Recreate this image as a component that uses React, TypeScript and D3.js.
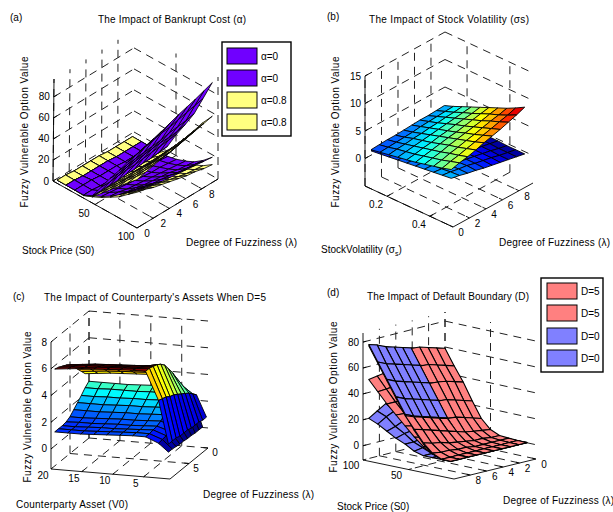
import React from "react";
import * as d3 from "d3";

type Mat = (number | null)[][];
type Pt = [number, number];

const FONT = "'Liberation Sans', Arial, sans-serif";

// Panel (a)
const stockA = [5, 15.5, 26, 36.5, 47, 57.5, 68, 78.5, 89, 100];
const fuzzA = [0, 1.03, 2.07, 3.1, 4.13, 5.17, 6.2, 7.23, 8.27, 9.3];
const lowerAlpha0: Mat = [
  [3, 3, 2, 2, 2, 2, 1, 1, 1, 1],
  [3, 3, 2, 2, 2, 2, 1, 1, 1, 1],
  [3, 3, 3, 2, 2, 2, 1, 1, 1, 1],
  [3, 3, 2, 2, 2, 1, 1, 1, 0, 0],
  [7, 6, 5, 5, 4, 3, 3, 2, 2, 1],
  [11, 10, 9, 8, 7, 6, 5, 5, 4, 3],
  [16, 15, 13, 12, 11, 10, 9, 8, 7, 6],
  [22, 20, 19, 17, 16, 15, 14, 12, 11, 10],
  [29, 27, 25, 23, 22, 21, 19, 18, 17, 16],
  [36, 34, 32, 30, 29, 28, 27, 26, 25, 24],
];
const lowerAlpha8: Mat = [
  [3.1, 3.1, 2.1, 2.1, 2.1, 2.1, 1.1, 1.1, 1.1, 1.1],
  [3.02, 3.02, 2.02, 2.02, 2.02, 2.02, 1.02, 1.02, 1.02, 1.02],
  [2.9, 2.9, 2.9, 1.9, 1.9, 1.9, 0.9, 0.9, 0.9, 0.9],
  [2.5, 2.4, 1.9, 1.5, 1.4, 0.9, 0.8, 0.5, 0, 0],
  [6, 5, 5, 4, 3, 3, 2, 2, 1, 1],
  [10, 9, 8, 7, 6, 5, 4, 4, 3, 2],
  [15, 13, 12, 11, 9, 8, 7, 6, 5, 4],
  [20, 19, 17, 15, 14, 12, 11, 9, 8, 7],
  [27, 25, 23, 21, 19, 17, 15, 13, 12, 11],
  [34, 32, 29, 27, 25, 23, 21, 20, 18, 17],
];
const upperAlpha0: Mat = [
  [3, 3, 2, 2, 2, 2, 1, 1, 1, 1],
  [3, 3, 2, 2, 2, 2, 1, 1, 1, 1],
  [3, 3, 3, 2, 2, 2, 1, 1, 1, 1],
  [3, 3, 2, 2, 2, 1, 1, 1, 0, 0],
  [7, 7, 7, 7, 8, 8, 9, 9, 10, 11],
  [20, 20, 21, 22, 22, 23, 24, 25, 26, 27],
  [33, 33, 34, 35, 36, 37, 38, 38, 39, 41],
  [45, 46, 47, 48, 49, 50, 52, 53, 54, 56],
  [58, 60, 62, 64, 66, 67, 69, 71, 73, 75],
  [70, 73, 75.5, 78, 81, 84, 86.5, 89, 92, 95],
];
const upperAlpha8: Mat = [
  [3.1, 3.1, 2.1, 2.1, 2.1, 2.1, 1.1, 1.1, 1.1, 1.1],
  [3.02, 3.02, 2.02, 2.02, 2.02, 2.02, 1.02, 1.02, 1.02, 1.02],
  [2.9, 2.9, 2.9, 1.9, 1.9, 1.9, 0.9, 0.9, 0.9, 0.9],
  [2.5, 2.4, 1.9, 1.5, 1.4, 0.9, 0.8, 0.5, 0, 0],
  [6, 6, 6, 6, 6, 6, 6, 6, 6, 7],
  [14, 14, 14, 14, 15, 15, 15, 16, 16, 17],
  [22, 22, 23, 23, 24, 24, 25, 26, 27, 28],
  [30, 31, 31, 32, 33, 34, 35, 36, 38, 40],
  [38, 39, 40, 41, 42, 43, 45, 47, 49, 52],
  [46, 48, 50, 52, 53, 55, 57, 59, 61, 63],
];

// Panel (b)
const sigmaB = [0.125, 0.167, 0.208, 0.25, 0.292, 0.333, 0.375, 0.417, 0.458, 0.5];
const fuzzB = [0, 0.99, 1.98, 2.97, 3.96, 4.94, 5.93, 6.92, 7.91, 8.9];
const upperB: Mat = [
  [2.1, 2.2, 2.3, 2.3, 2.4, 2.5, 2.6, 2.6, 2.7, 2.8],
  [2.4, 2.5, 2.6, 2.7, 2.8, 3.0, 3.1, 3.2, 3.3, 3.4],
  [2.7, 2.9, 3.0, 3.2, 3.3, 3.5, 3.6, 3.8, 3.9, 4.1],
  [3.0, 3.2, 3.4, 3.6, 3.8, 4.0, 4.2, 4.4, 4.6, 4.8],
  [3.3, 3.5, 3.8, 4.0, 4.3, 4.5, 4.8, 5.0, 5.2, 5.5],
  [3.6, 3.9, 4.2, 4.5, 4.8, 5.0, 5.3, 5.6, 5.9, 6.2],
  [4.0, 4.3, 4.6, 5.0, 5.3, 5.6, 5.9, 6.2, 6.6, 6.9],
  [4.4, 4.7, 5.1, 5.4, 5.8, 6.1, 6.5, 6.9, 7.2, 7.6],
  [4.8, 5.2, 5.5, 5.9, 6.3, 6.7, 7.1, 7.5, 7.9, 8.4],
  [5.3, 5.7, 6.0, 6.4, 6.9, 7.3, 7.7, 8.2, 8.7, 9.3],
];
const lowerB: Mat = [
  [1.9, 1.9, 1.8, 1.8, 1.7, 1.6, 1.5, 1.4, 1.3, 1.2],
  [2.1, 2.0, 1.9, 1.9, 1.8, 1.7, 1.6, 1.5, 1.3, 1.2],
  [2.3, 2.2, 2.1, 2.0, 1.9, 1.8, 1.6, 1.5, 1.3, 1.2],
  [2.5, 2.4, 2.3, 2.2, 2.0, 1.9, 1.7, 1.5, 1.3, 1.1],
  [2.7, 2.6, 2.4, 2.3, 2.1, 1.9, 1.7, 1.5, 1.3, 1.0],
  [2.9, 2.8, 2.6, 2.4, 2.2, 2.0, 1.8, 1.5, 1.2, 0.9],
  [3.1, 3.0, 2.8, 2.5, 2.3, 2.0, 1.8, 1.5, 1.2, 0.9],
  [3.3, 3.1, 2.9, 2.7, 2.4, 2.1, 1.8, 1.5, 1.1, 0.8],
  [3.5, 3.3, 3.0, 2.8, 2.4, 2.1, 1.8, 1.4, 1.1, 0.8],
  [3.7, 3.4, 3.0, 2.7, 2.3, 2.0, 1.7, 1.4, 1.1, 0.8],
];

// Panel (c)
const assetC = [1.0, 2.6, 4.7, 6.8, 8.9, 11, 13.1, 15.2, 17.3, 19.4];
const fuzzC = [0, 1, 2, 3, 4, 5, 6, 7, 8, 9, 10];
const upperC: Mat = [
  [0.8, 0.8, 0.9, 0.9, 0.9, 1.0, 1.0, 1.0, 1.1, 1.1, 1.1],
  [2.4, 2.7, 3.0, 3.2, 3.4, 3.6, 3.8, 3.9, 4.1, 4.2, 4.3],
  [2.6, 3.4, 4.1, 4.7, 5.2, 5.7, 6.0, 6.2, 6.3, 6.4, 6.4],
  [null, null, 4.2, 4.6, 5.0, 5.4, 5.8, 6.0, 6.15, 6.3, 6.4],
  [null, null, 4.15, 4.55, 4.95, 5.35, 5.75, 5.95, 6.1, 6.25, 6.35],
  [null, null, 4.1, 4.5, 4.9, 5.3, 5.7, 5.9, 6.05, 6.2, 6.3],
  [null, null, 4.05, 4.45, 4.85, 5.25, 5.65, 5.85, 6.0, 6.15, 6.25],
  [null, null, 4.0, 4.4, 4.8, 5.2, 5.6, 5.8, 5.95, 6.05, 6.2],
  [null, null, 3.9, 4.3, 4.7, 5.1, 5.5, 5.7, 5.85, 6.0, 6.1],
  [null, null, 3.8, 4.2, 4.6, 5.0, 5.4, 5.6, 5.75, 5.9, 6.0],
];
const lowerC: Mat = [
  [null, 0.3, 0.3, 0.3, 0.35, 0.35, 0.4, 0.4, 0.45, 0.5, 0.5],
  [null, 2.4, 2.2, 2.0, 1.8, 1.6, 1.4, 1.3, 1.2, 1.15, 1.1],
  [null, 3.1, 2.9, 2.6, 2.3, 2.0, 1.75, 1.6, 1.55, 1.5, 1.5],
  [null, 3.1, 2.85, 2.55, 2.25, 1.95, 1.7, 1.55, 1.5, 1.5, 1.5],
  [null, 3.1, 2.85, 2.5, 2.2, 1.9, 1.65, 1.5, 1.45, 1.45, 1.45],
  [null, 3.05, 2.8, 2.5, 2.2, 1.9, 1.65, 1.5, 1.4, 1.4, 1.4],
  [null, 3.0, 2.8, 2.45, 2.15, 1.85, 1.6, 1.45, 1.4, 1.35, 1.35],
  [null, 3.0, 2.8, 2.45, 2.1, 1.8, 1.55, 1.4, 1.35, 1.3, 1.3],
  [null, 3.0, 2.75, 2.4, 2.1, 1.8, 1.5, 1.4, 1.3, 1.3, 1.3],
  [null, 3.0, 2.75, 2.4, 2.1, 1.8, 1.5, 1.35, 1.3, 1.3, 1.3],
];

// Panel (d)
const stockD = [10, 20, 30, 40, 50, 60, 70, 80, 90, 100];
const fuzzD = [0, 1.03, 2.07, 3.1, 4.13, 5.17, 6.2, 7.23, 8.27, 9.3];
const upperD0: Mat = [
  [0.3, 0.3, 0.3, 0.3, 0.3, 0.3, 0.3, 0.3, 0.3, 0.3],
  [0, 0, 0, 0, 0, 0, 0, 0, 0, 0],
  [0, 0, 0, 0, 0, 1, 1, 2, 2, 3],
  [0, 0, 1, 1, 2, 3, 4, 6, 7, 9],
  [3, 4, 5, 6, 8, 10, 12, 14, 16, 18],
  [10, 12, 14, 16, 18, 20, 22, 24, 26, 29],
  [22, 24, 26, 28, 30, 32, 34, 36, 38, 41],
  [35, 37, 39, 40, 42, 44, 46, 48, 50, 53],
  [46, 48, 50, 52, 54, 56, 58, 60, 62, 65],
  [58, 60, 62, 64, 66, 68, 70, 72, 75, 77],
];
const upperD5: Mat = [
  [0.1, 0.1, 0.1, 0.1, 0.1, 0.1, 0.1, 0.1, 0.1, 0.1],
  [0.2, 0.2, 0.2, 0.2, 0.2, 0.2, 0.2, 0.2, 0.2, 0.2],
  [0.5, 0.5, 0.5, 0.5, 0.5, 1.5, 1.5, 2.5, 2.5, 3.5],
  [1, 1, 2, 2, 3, 4, 5, 7, 8, 10],
  [4, 5, 6, 7, 9, 11, 13, 15, 17, 19],
  [11, 13, 15, 17, 17.5, 19.5, 21.5, 23.5, 25.5, 28],
  [23, 25, 27, 29, 29.5, 31.5, 33.5, 35.5, 37.5, 40],
  [36, 38, 40, 41, 41.5, 43.5, 45.5, 47.5, 49.5, 52],
  [47, 49, 51, 53, 53.5, 55.5, 57.5, 59.5, 61.5, 64],
  [59, 61, 63, 65, 65.5, 67.5, 69.5, 71.5, 74, 76],
];
const lowerD5: Mat = [
  [0, 0, 0, 0, 0, 0, 0, 0, 0, 0],
  [0, 0, 0, 0, 0, 0, 0, 0, 0, 0],
  [0, 0, 0, 0, 0, 0.5, 1, 1, 2, 3],
  [0, 0, 0.5, 1, 1.5, 2, 3, 4, 5, 7],
  [2.5, 3.5, 4, 5, 6, 7, 8, 9.5, 11, 13],
  [9.5, 10.5, 11.5, 12.5, 14, 15, 16, 17, 18.5, 20],
  [21.5, 22, 22.5, 23, 24, 24.5, 25, 26, 26.5, 27],
  [34.5, 34.5, 34.5, 34.5, 34.5, 34, 34, 34, 34, 34],
  [45.5, 45, 44.5, 44, 44, 43.5, 43, 43, 42.5, 42],
  [57.5, 56.5, 55.5, 55, 54, 53, 52.5, 52, 51, 50],
];
const lowerD0: Mat = [
  [0, 0, 0, 0, 0, 0, 0, 0, 0, 0],
  [0, 0, 0, 0, 0, 0, 0, 0, 0, 0],
  [0, 0, 0, 0, 0, 0, 0, 0, 0, 0],
  [0, 0, 0, 0, 0, 0, 0, 0, 0, 0],
  [2, 2, 2, 3, 3, 3, 3, 3, 3, 2],
  [9, 9, 9, 9, 8, 8, 7, 7, 6, 6],
  [21, 20, 19, 18, 17, 15, 14, 12, 11, 9],
  [34, 32, 30, 27, 25, 23, 21, 18, 15, 13],
  [45, 42, 39, 36, 33, 30, 27, 24, 21, 17],
  [57, 53, 48, 44, 40, 36, 32, 28, 24, 20],
];

const legendA = ["α=0", "α=0", "α=0.8", "α=0.8"];
const legendD = ["D=5", "D=5", "D=0", "D=0"];
const PURPLE = "#7000ff";
const YELLOW = "#ffff80";
const RED = "#ff8080";
const BLUE = "#8080ff";

const jet = d3
  .scaleLinear<string>()
  .domain([0, 0.125, 0.375, 0.625, 0.875, 1])
  .range(["#000080", "#0000ff", "#00ffff", "#ffff00", "#ff0000", "#800000"])
  .clamp(true);

type Surface = { z: Mat; fill?: string; colorAt?: [number, number] };
type Lbl = { t: string; x: number; y: number; anchor?: string; len?: number };
type PanelCfg = {
  uDomain: [number, number];
  vDomain: [number, number];
  zDomain: [number, number];
  floor: [[Pt, Pt], [Pt, Pt]];
  top: [[Pt, Pt], [Pt, Pt]];
  uBack: number;
  vBack: number;
  uFront: number;
  vFront: number;
  uTicks: number[];
  vTicks: number[];
  zTicks: number[];
  uOff: Pt;
  vOff: Pt;
  uLabels: number[];
  us: number[];
  vs: number[];
  surfaces: Surface[];
  mesh: number;
  clim?: [number, number];
  tickFmt?: (v: number) => string;
};

function Panel({ c }: { c: PanelCfg }) {
  const U = d3.scaleLinear().domain(c.uDomain).range([0, 1]);
  const V = d3.scaleLinear().domain(c.vDomain).range([0, 1]);
  const Z = d3.scaleLinear().domain(c.zDomain).range([0, 1]);
  const bil = (g: [[Pt, Pt], [Pt, Pt]], a: number, b: number): Pt => {
    const f = (k: 0 | 1) =>
      (1 - a) * ((1 - b) * g[0][0][k] + b * g[0][1][k]) + a * ((1 - b) * g[1][0][k] + b * g[1][1][k]);
    return [f(0), f(1)];
  };
  const proj = (u: number, v: number, z: number): Pt => {
    const a = U(u);
    const b = V(v);
    const t = Z(z);
    const f = bil(c.floor, a, b);
    const p = bil(c.top, a, b);
    return [f[0] + t * (p[0] - f[0]), f[1] + t * (p[1] - f[1])];
  };
  const [zLo, zHi] = c.zDomain;
  const seg = (a: Pt, b: Pt) => d3.line()([a, b]) as string;
  const closed = d3.line().curve(d3.curveLinearClosed);

  const grid: string[] = [];
  c.uTicks.forEach((u) => {
    grid.push(seg(proj(u, c.vBack, zLo), proj(u, c.vFront, zLo)));
    grid.push(seg(proj(u, c.vBack, zLo), proj(u, c.vBack, zHi)));
  });
  c.vTicks.forEach((v) => {
    grid.push(seg(proj(c.uBack, v, zLo), proj(c.uFront, v, zLo)));
    grid.push(seg(proj(c.uBack, v, zLo), proj(c.uBack, v, zHi)));
  });
  c.zTicks.forEach((z) => {
    grid.push(seg(proj(c.uBack, c.vFront, z), proj(c.uBack, c.vBack, z)));
    grid.push(seg(proj(c.uBack, c.vBack, z), proj(c.uFront, c.vBack, z)));
  });

  const all = c.surfaces.flatMap((s) => s.z.flat()).filter((d) => d !== null) as number[];
  const ext = c.clim ?? (d3.extent(all) as [number, number]);
  const cnorm = d3.scaleLinear().domain(ext).range([0, 1]);

  const cells: { d: string; fill: string; fy: number; mz: number }[] = [];
  c.surfaces.forEach((s) => {
    const [di, dj] = s.colorAt ?? [0, 0];
    for (let i = 0; i < c.us.length - 1; i++) {
      for (let j = 0; j < c.vs.length - 1; j++) {
        const zs = [s.z[i][j], s.z[i + 1][j], s.z[i + 1][j + 1], s.z[i][j + 1]];
        if (zs.some((q) => q === null)) continue;
        const idx: [number, number][] = [[i, j], [i + 1, j], [i + 1, j + 1], [i, j + 1]];
        const pts = idx.map(([a, b], k) => proj(c.us[a], c.vs[b], zs[k] as number));
        const floorY = idx.map(([a, b]) => proj(c.us[a], c.vs[b], zLo)[1]);
        cells.push({
          d: closed(pts) as string,
          fill: s.fill ?? jet(cnorm(s.z[i + di][j + dj] as number)),
          fy: Math.round((d3.mean(floorY) as number) * 1000),
          mz: d3.mean(zs as number[]) as number,
        });
      }
    }
  });
  cells.sort((a, b) => d3.ascending(a.fy, b.fy) || d3.ascending(a.mz, b.mz));

  const axisO = proj(c.uBack, c.vFront, zLo);
  const axisZ = proj(c.uBack, c.vFront, zHi);
  const corner = proj(c.uFront, c.vFront, zLo);
  const end = proj(c.uFront, c.vBack, zLo);
  const fmt = c.tickFmt ?? ((v: number) => String(v));
  const uSpan = c.uBack - c.uFront;
  const vSpan = c.vBack - c.vFront;

  return (
    <g>
      <g fill="none" stroke="#222" strokeWidth={1} strokeDasharray="8 6">
        {grid.map((d, i) => (
          <path key={i} d={d} />
        ))}
      </g>
      <g stroke="#000" strokeWidth={0.9} fill="none">
        <path d={seg(axisO, axisZ)} />
        <path d={seg(axisO, corner)} />
        <path d={seg(corner, end)} />
        {c.uTicks.map((u) => (
          <path key={"u" + u} d={seg(proj(u, c.vFront, zLo), proj(u, c.vFront + vSpan * 0.04, zLo))} />
        ))}
        {c.vTicks.map((v) => (
          <path key={"v" + v} d={seg(proj(c.uFront, v, zLo), proj(c.uFront + uSpan * 0.04, v, zLo))} />
        ))}
        {c.zTicks.map((z) => (
          <path key={"z" + z} d={seg(proj(c.uBack, c.vFront, z), proj(c.uBack, c.vFront + vSpan * 0.04, z))} />
        ))}
      </g>
      <g stroke="#000" strokeWidth={c.mesh} strokeLinejoin="round">
        {cells.map((q, i) => (
          <path key={i} d={q.d} fill={q.fill} />
        ))}
      </g>
      <g fontSize={10} fontFamily={FONT} fill="#000">
        {c.zTicks.map((z) => {
          const p = proj(c.uBack, c.vFront, z);
          return (
            <text key={"tz" + z} x={p[0] - 4} y={p[1] + 3.5} textAnchor="end">
              {z}
            </text>
          );
        })}
        {c.uLabels.map((u) => {
          const p = proj(u, c.vFront, zLo);
          return (
            <text key={"tu" + u} x={p[0] + c.uOff[0]} y={p[1] + c.uOff[1]} textAnchor="middle">
              {fmt(u)}
            </text>
          );
        })}
        {c.vTicks.map((v) => {
          const p = proj(c.uFront, v, zLo);
          return (
            <text key={"tv" + v} x={p[0] + c.vOff[0]} y={p[1] + c.vOff[1]} textAnchor="middle">
              {v}
            </text>
          );
        })}
      </g>
    </g>
  );
}

function Legend({ x, y, w, h, sw, rows, labels, fills }: { x: number; y: number; w: number; h: number; sw: number; rows: number[]; labels: string[]; fills: string[] }) {
  return (
    <g fontSize={10} fontFamily={FONT}>
      <rect x={x} y={y} width={w} height={h} fill="#fff" stroke="#000" strokeWidth={1.4} />
      {labels.map((l, i) => (
        <g key={i}>
          <rect x={sw} y={rows[i]} width={30} height={16} fill={fills[i]} stroke="#000" strokeWidth={1} />
          <text x={sw + 34} y={rows[i] + 11.5}>
            {l}
          </text>
        </g>
      ))}
    </g>
  );
}

const panelA: PanelCfg = {
  uDomain: [0, 100], vDomain: [0, 10], zDomain: [0, 97],
  floor: [[[53, 181], [134, 132]], [[137, 228], [218, 179]]],
  top: [[[54, 79], [134, 30]], [[137, 126], [218, 77]]],
  uBack: 0, vBack: 10, uFront: 100, vFront: 0,
  uTicks: [50, 100], vTicks: [0, 2, 4, 6, 8], zTicks: [0, 20, 40, 60, 80],
  uOff: [-11, 12], vOff: [10, 9], uLabels: [50, 100],
  us: stockA, vs: fuzzA, mesh: 0.8,
  surfaces: [
    { z: lowerAlpha8, fill: YELLOW },
    { z: lowerAlpha0, fill: PURPLE },
    { z: upperAlpha8, fill: YELLOW },
    { z: upperAlpha0, fill: PURPLE },
  ],
};
const panelB: PanelCfg = {
  uDomain: [0.097, 0.508], vDomain: [0, 9.7], zDomain: [-5, 15],
  floor: [[[365, 186], [445, 142]], [[453, 227], [533, 183]]],
  top: [[[365, 76], [445, 32]], [[453, 117], [533, 73]]],
  uBack: 0.097, vBack: 9.7, uFront: 0.508, vFront: 0,
  uTicks: [0.2, 0.4], vTicks: [0, 2, 4, 6, 8], zTicks: [0, 5, 10, 15],
  uOff: [-11, 12], vOff: [8, 9], uLabels: [0.2, 0.4],
  us: sigmaB, vs: fuzzB, mesh: 0.9, clim: [0.5, 10.3],
  surfaces: [{ z: lowerB, colorAt: [1, 1] }, { z: upperB, colorAt: [1, 1] }],
  tickFmt: (v) => v.toFixed(1),
};
const panelC: PanelCfg = {
  uDomain: [0.75, 20], vDomain: [0, 10], zDomain: [-1.5, 8],
  floor: [[[208, 448], [170, 479]], [[89, 438], [51, 469]]],
  top: [[[208, 321], [170, 352]], [[89, 311], [51, 342]]],
  uBack: 20, vBack: 0, uFront: 0.75, vFront: 10,
  uTicks: [5, 10, 15, 20], vTicks: [0, 5], zTicks: [0, 2, 4, 6, 8],
  uOff: [-8, 10], vOff: [7, 8], uLabels: [5, 10, 15, 20],
  us: assetC, vs: fuzzC, mesh: 0.9, clim: [0.3, 6.1],
  surfaces: [{ z: lowerC, colorAt: [0, 1] }, { z: upperC }],
};
const panelD: PanelCfg = {
  uDomain: [0, 100], vDomain: [0, 10], zDomain: [-11, 87],
  floor: [[[536, 459], [454, 479]], [[445, 439], [363, 460]]],
  top: [[[536, 332], [454, 352]], [[445, 312], [363, 333]]],
  uBack: 100, vBack: 0, uFront: 0, vFront: 10,
  uTicks: [50, 100], vTicks: [0, 2, 4, 6, 8], zTicks: [0, 20, 40, 60, 80],
  uOff: [-12, 9], vOff: [8, 9], uLabels: [50, 100],
  us: stockD, vs: fuzzD, mesh: 1.1,
  surfaces: [
    { z: lowerD0, fill: BLUE },
    { z: lowerD5, fill: RED },
    { z: upperD0, fill: BLUE },
    { z: upperD5, fill: RED },
  ],
};

const texts: (Lbl & { rot?: boolean })[] = [
  { t: "(a)", x: 10, y: 21 },
  { t: "The Impact of Bankrupt Cost (α)", x: 98, y: 23, len: 148 },
  { t: "Fuzzy Vulnerable Option Value", x: 28, y: 132, anchor: "middle", len: 151, rot: true },
  { t: "Stock Price  (S0)", x: 22, y: 254 },
  { t: "Degree of Fuzziness (λ)", x: 186, y: 246, len: 111 },
  { t: "(b)", x: 327, y: 20 },
  { t: "The Impact of Stock Volatility (σs)", x: 369, y: 23, len: 160 },
  { t: "Fuzzy Vulnerable Option Value", x: 339, y: 132, anchor: "middle", len: 151, rot: true },
  { t: "Degree of Fuzziness (λ)", x: 499, y: 246, len: 111 },
  { t: "(c)", x: 13, y: 300 },
  { t: "The Impact of Counterparty's Assets When D=5", x: 44, y: 301, len: 222 },
  { t: "Fuzzy Vulnerable Option Value", x: 31, y: 407, anchor: "middle", len: 151, rot: true },
  { t: "Counterparty Asset (V0)", x: 16, y: 508, len: 112 },
  { t: "Degree of Fuzziness (λ)", x: 203, y: 498, len: 111 },
  { t: "(d)", x: 327, y: 296 },
  { t: "The Impact of Default Boundary (D)", x: 367, y: 300, len: 162 },
  { t: "Fuzzy Vulnerable Option Value", x: 337, y: 397, anchor: "middle", len: 151, rot: true },
  { t: "Stock Price  (S0)", x: 337, y: 510 },
  { t: "Degree of Fuzziness (λ)", x: 503, y: 504, len: 111 },
];

export default function App() {
  return (
    <svg width={613} height={512} style={{ position: "absolute", left: 0, top: 0, background: "#fff" }}>
      <Panel c={panelA} />
      <Panel c={panelB} />
      <Panel c={panelC} />
      <Panel c={panelD} />
      <Legend x={222} y={42} w={69} h={94} sw={227} rows={[48, 70, 92, 114]} labels={legendA} fills={[PURPLE, PURPLE, YELLOW, YELLOW]} />
      <Legend x={541} y={278} w={62} h={94} sw={547} rows={[283, 305, 328, 350]} labels={legendD} fills={[RED, RED, BLUE, BLUE]} />
      <g fontSize={10} fontFamily={FONT} fill="#000" style={{ whiteSpace: "pre" }}>
        {texts.map((l, i) => (
          <text
            key={i}
            x={l.x}
            y={l.y}
            textAnchor={l.anchor ?? "start"}
            textLength={l.len}
            lengthAdjust={l.len ? "spacing" : undefined}
            transform={l.rot ? `rotate(-90 ${l.x} ${l.y})` : undefined}
          >
            {l.t}
          </text>
        ))}
        <text x={321} y={253}>
          StockVolatility  (σ
          <tspan fontSize={7} dy={3}>s</tspan>
          <tspan dy={-3}>)</tspan>
        </text>
      </g>
    </svg>
  );
}
